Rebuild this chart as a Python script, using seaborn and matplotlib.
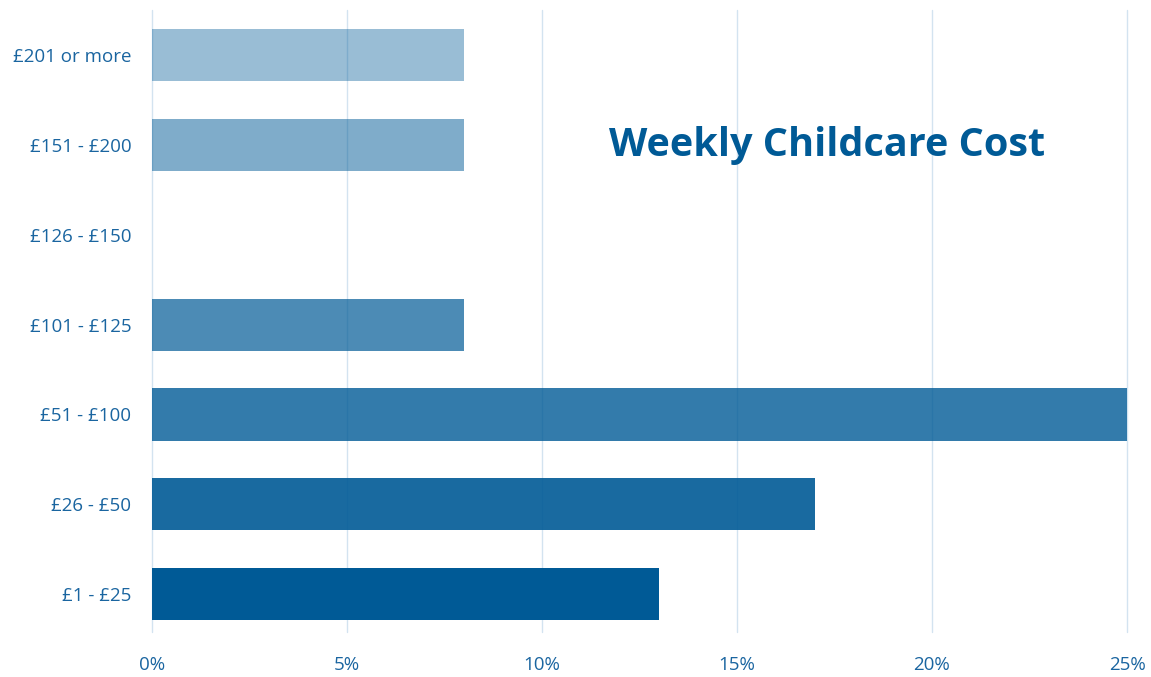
import matplotlib
matplotlib.use('Agg')
import matplotlib.pyplot as plt
import pandas as pd
import seaborn as sns
from matplotlib.ticker import FuncFormatter

# data, top row first
cost_bands = ['£201 or more', '£151 - £200', '£126 - £150', '£101 - £125',
              '£51 - £100', '£26 - £50', '£1 - £25']
share_pct = [8, 8, 0, 8, 25, 17, 13]
x_ticks = [0, 5, 10, 15, 20, 25]

BLUE = '#005a96'
TEXT = '#1a65a0'
GRID = '#d3e3f0'

sns.set_style('white')
plt.rcParams['font.family'] = ['Open Sans', 'DejaVu Sans']

df = pd.DataFrame({'band': cost_bands, 'share': share_pct})

fig = plt.figure(figsize=(11.51, 6.77), dpi=100)
ax = fig.add_axes([152 / 1151, 1 - 632 / 677, 975 / 1151, 622 / 677])

sns.barplot(data=df, x='share', y='band', order=cost_bands, color=BLUE,
            width=0.58, orient='h', linewidth=0, saturation=1, ax=ax)

# fade bars from bottom to top
alphas = [0.4, 0.5, 0.6, 0.7, 0.8, 0.9, 1.0]
for patch, a in zip(ax.patches, alphas):
    patch.set_alpha(a)

ax.set_xlim(0, 25)
ax.set_ylim(6.42, -0.5)
ax.set_xticks(x_ticks)
ax.xaxis.set_major_formatter(FuncFormatter(lambda v, p: f'{v:.0f}%'))
ax.grid(axis='x', color=GRID, linewidth=1)
for gl in ax.get_xgridlines():
    gl.set_clip_on(False)
ax.set_axisbelow(True)
for s in ax.spines.values():
    s.set_visible(False)
ax.tick_params(axis='both', length=0, labelsize=13.5, colors=TEXT)
ax.tick_params(axis='y', pad=15)
ax.tick_params(axis='x', pad=17)
ax.set_xlabel('')
ax.set_ylabel('')

ax.text(0.692, 0.782, 'Weekly Childcare Cost', transform=ax.transAxes,
        ha='center', va='center', fontsize=28.5, fontweight='bold', color=BLUE)

fig.savefig('out.png', dpi=100)
